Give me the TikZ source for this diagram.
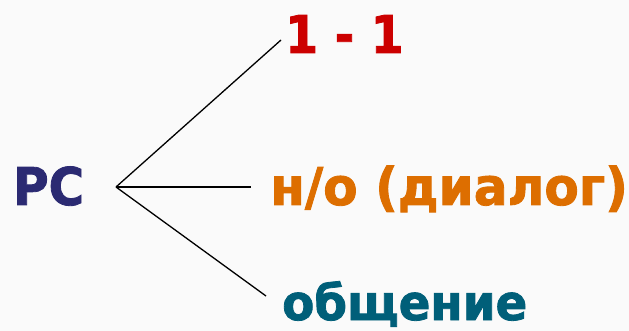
\documentclass[tikz,border=0pt]{standalone}
\usepackage{fontspec}
\setmainfont{DejaVu Sans}
\newfontface\pcfont{DejaVu Sans Bold}[FakeBold=1.6,FakeStretch=0.93]
\newfontface\onefont{DejaVu Sans Bold}[FakeBold=1.6,FakeStretch=0.91]
\newfontface\nofont{DejaVu Sans Bold}[FakeBold=1.6,FakeStretch=0.965]
\newfontface\obfont{DejaVu Sans Bold}[FakeBold=1.6,FakeStretch=0.955]
\definecolor{bgc}{HTML}{FAFAFA}
\definecolor{pcc}{HTML}{2B2A72}
\definecolor{redc}{HTML}{CC0000}
\definecolor{orc}{HTML}{DD6E00}
\definecolor{tealc}{HTML}{005F79}
\begin{document}
\begin{tikzpicture}[x=1pt,y=-1pt,
  lbl/.style={inner sep=0pt,anchor=base west},
  branch/.style={draw=black,line width=1.3pt}]
\fill[bgc] (0,0) rectangle (629,331);
\useasboundingbox (0,0) rectangle (629,331);
\node[lbl,text=pcc,font=\pcfont\fontsize{52}{52}\selectfont] (pc) at (13,205) {PC};
\node[lbl,text=redc,font=\onefont\fontsize{52}{52}\selectfont] (one) at (285,53) {1 - 1};
\node[lbl,text=orc,font=\nofont\fontsize{52}{52}\selectfont] (no) at (270,205) {н/о (диалог)};
\node[lbl,text=tealc,font=\obfont\fontsize{49}{49}\selectfont] (ob) at (282,320) {общение};
\coordinate (hub) at (116,187);
\coordinate (e1) at (281,40);
\coordinate (e2) at (251,187);
\coordinate (e3) at (266,296);
\draw[branch] (hub) -- (e1);
\draw[branch] (hub) -- (e2);
\draw[branch] (hub) -- (e3);
\end{tikzpicture}
\end{document}
